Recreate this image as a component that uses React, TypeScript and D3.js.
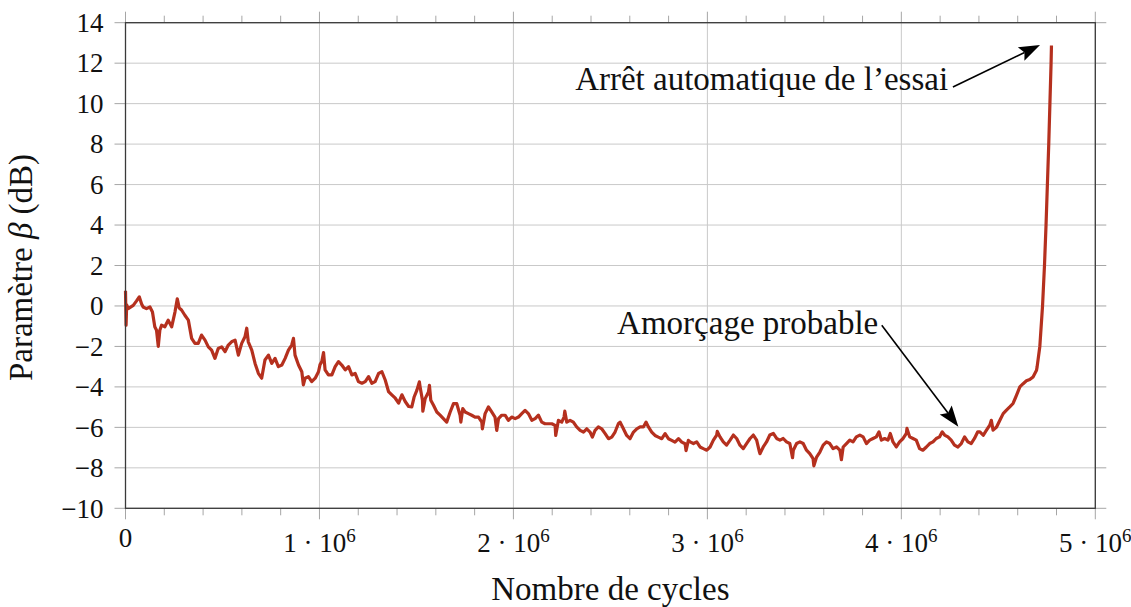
import React from "react";
import * as d3 from "d3";

// Number of cycles, in millions
const cyclesM = [
  0.000, 0.003, 0.006, 0.014, 0.040, 0.057, 0.071, 0.083, 0.091, 0.108, 0.126, 0.139, 0.151, 0.160, 0.169, 0.177, 0.186, 0.203, 0.220, 0.238,
  0.255, 0.267, 0.277, 0.289, 0.306, 0.324, 0.341, 0.358, 0.375, 0.392, 0.410, 0.427, 0.444, 0.461, 0.478, 0.496, 0.513, 0.530, 0.547, 0.565,
  0.582, 0.599, 0.616, 0.625, 0.633, 0.651, 0.668, 0.685, 0.702, 0.719, 0.737, 0.754, 0.771, 0.788, 0.806, 0.823, 0.840, 0.857, 0.866, 0.874,
  0.892, 0.909, 0.917, 0.926, 0.943, 0.960, 0.978, 0.995, 1.003, 1.012, 1.021, 1.029, 1.046, 1.064, 1.081, 1.098, 1.115, 1.133, 1.150, 1.167,
  1.184, 1.201, 1.219, 1.236, 1.253, 1.270, 1.287, 1.305, 1.322, 1.339, 1.356, 1.373, 1.391, 1.408, 1.425, 1.442, 1.460,
  1.476, 1.488, 1.502, 1.515, 1.519, 1.531, 1.533, 1.545, 1.562, 1.567, 1.574, 1.588, 1.605, 1.622, 1.639, 1.656, 1.674, 1.691, 1.708, 1.725,
  1.729, 1.739, 1.751, 1.768, 1.785, 1.802, 1.820, 1.837, 1.840, 1.854, 1.871, 1.888, 1.905, 1.914, 1.923, 1.940, 1.957, 1.974, 1.991, 2.009,
  2.026, 2.043, 2.060, 2.077, 2.095, 2.112, 2.129, 2.146, 2.163, 2.180, 2.198, 2.215, 2.218, 2.232, 2.249, 2.261, 2.265, 2.275, 2.292, 2.309,
  2.326, 2.344, 2.361, 2.378, 2.395, 2.407, 2.421, 2.438, 2.455, 2.473, 2.490, 2.507, 2.524, 2.541, 2.550, 2.567, 2.584, 2.601, 2.619, 2.636,
  2.653, 2.670, 2.684, 2.696, 2.713, 2.730, 2.747, 2.765, 2.782, 2.799, 2.816, 2.833, 2.851, 2.868, 2.885, 2.890, 2.902,
  2.911, 2.928, 2.945, 2.962, 2.979, 2.997, 3.014, 3.031, 3.048, 3.051, 3.065, 3.082, 3.099, 3.117, 3.134, 3.151, 3.168, 3.185, 3.202, 3.220,
  3.237, 3.254, 3.268, 3.271, 3.288, 3.305, 3.322, 3.340, 3.357, 3.374, 3.391, 3.408, 3.425, 3.439, 3.443, 3.460, 3.477, 3.494, 3.511, 3.528,
  3.545, 3.549, 3.563, 3.580, 3.597, 3.614, 3.631, 3.648, 3.666, 3.683, 3.691, 3.700, 3.717, 3.734, 3.751, 3.768, 3.786, 3.803, 3.820, 3.837,
  3.854, 3.871, 3.885, 3.897, 3.914, 3.931, 3.943, 3.957, 3.974, 3.991, 4.009, 4.026, 4.029, 4.043, 4.060, 4.077, 4.094, 4.111, 4.129, 4.146,
  4.163, 4.180, 4.197, 4.211, 4.223, 4.240, 4.257, 4.274, 4.292, 4.309, 4.326, 4.343, 4.360, 4.377, 4.394,
  4.405, 4.422, 4.439, 4.456, 4.464, 4.473, 4.491, 4.508, 4.525, 4.542, 4.559, 4.576, 4.594, 4.611, 4.628, 4.645, 4.662, 4.679, 4.697, 4.700,
  4.714, 4.728, 4.738, 4.746, 4.753, 4.760, 4.766, 4.772, 4.774,
];

// Parameter beta (dB)
const betaDb = [
  0.75, -0.95, 0.05, -0.13, 0.03, 0.25, 0.45, 0.10, -0.05, -0.13, -0.05, -0.30, -1.03, -1.20, -2.00, -1.20, -0.95, -1.03, -0.70, -1.03,
  -0.30, 0.35, -0.10, -0.20, -0.46, -0.70, -1.60, -1.85, -1.85, -1.44, -1.69, -2.02, -2.18, -2.59, -2.10, -2.02, -2.26, -1.93, -1.77, -1.69,
  -2.43, -1.85, -1.52, -1.10, -1.77, -2.18, -2.84, -3.33, -3.57, -2.67, -2.43, -2.84, -2.59, -3.00, -2.92, -2.59, -2.18, -1.93, -1.60, -2.43,
  -2.92, -3.25, -3.90, -3.57, -3.49, -3.74, -3.57, -3.25, -2.90, -2.75, -2.30, -3.16, -3.41, -3.41, -3.00, -2.75, -2.92, -3.16, -3.00, -3.41,
  -3.33, -3.74, -3.82, -3.74, -3.49, -3.82, -3.74, -3.33, -3.25, -3.66, -4.23, -4.39, -4.56, -4.80, -4.39, -4.72, -4.97,
  -4.99, -4.50, -4.17, -3.75, -4.00, -4.66, -5.20, -4.58, -4.25, -3.92, -4.66, -4.91, -5.24, -5.40, -5.57, -5.74, -5.24, -4.83, -4.83, -5.40,
  -5.74, -5.07, -5.24, -5.32, -5.40, -5.49, -5.49, -5.74, -6.07, -5.32, -4.99, -5.24, -5.49, -6.15, -5.57, -5.40, -5.40, -5.65, -5.49, -5.57,
  -5.49, -5.32, -5.16, -5.32, -5.65, -5.57, -5.40, -5.74, -5.82, -5.82, -5.82, -5.90, -6.40, -5.65, -5.74, -5.49, -5.20, -5.74, -5.65, -5.74,
  -5.98, -6.15, -6.23, -6.07, -6.23, -6.48, -6.15, -5.98, -6.07, -6.31, -6.56, -6.48, -6.23, -5.82, -5.74, -6.07, -6.40, -6.56, -6.23, -6.07,
  -5.98, -5.98, -5.74, -5.98, -6.23, -6.40, -6.48, -6.56, -6.31, -6.56, -6.64, -6.73, -6.56, -6.73, -6.81, -7.15, -6.64,
  -6.72, -6.80, -6.72, -6.97, -7.05, -7.13, -6.97, -6.63, -6.38, -6.20, -6.47, -6.72, -6.88, -6.63, -6.38, -6.55, -6.88, -7.05, -6.80, -6.55,
  -6.38, -6.63, -7.20, -7.30, -6.97, -6.72, -6.38, -6.30, -6.55, -6.63, -6.55, -6.72, -6.80, -7.50, -7.13, -6.80, -6.72, -6.80, -7.13, -7.30,
  -7.55, -7.90, -7.47, -7.22, -6.88, -6.72, -6.80, -7.05, -6.97, -7.13, -7.60, -6.97, -6.80, -6.63, -6.72, -6.47, -6.38, -6.47, -6.80, -6.63,
  -6.55, -6.47, -6.22, -6.63, -6.55, -6.63, -6.30, -6.72, -6.97, -6.72, -6.55, -6.30, -6.05, -6.47, -6.55, -6.63, -7.05, -7.13, -6.97, -6.80,
  -6.72, -6.55, -6.47, -6.22, -6.38, -6.47, -6.63, -6.88, -6.97, -6.80, -6.47, -6.72, -6.80, -6.55, -6.22,
  -6.22, -6.39, -6.14, -5.89, -5.65, -6.14, -5.98, -5.65, -5.32, -5.15, -4.99, -4.82, -4.41, -4.00, -3.84, -3.70, -3.64, -3.51, -3.18, -3.01,
  -2.00, 0.00, 2.00, 4.00, 6.00, 8.00, 10.00, 12.00, 12.87,
];

const yTicks = [-10, -8, -6, -4, -2, 0, 2, 4, 6, 8, 10, 12, 14];
const xTicksM = [0, 1, 2, 3, 4, 5];
const xMinorTicksM = d3.range(0, 5.0001, 0.2);

const xTitle = "Nombre de cycles";
const yTitleParts = ["Paramètre ", "β", " (dB)"];

// Annotations: [text end x (Mcycles), text baseline y (dB)], arrow start, arrow tip
const noteLabels = ["Arrêt automatique de l’essai", "Amorçage probable"];
const noteTextPos = [[4.241, 10.67], [3.881, -1.40]];
const noteArrowFrom = [[4.266, 10.82], [3.899, -0.95]];
const noteArrowTo = [[4.715, 12.90], [4.294, -5.97]];

const W = 1131;
const H = 607;
const FONT = "'Liberation Serif', 'Times New Roman', serif";
const LINE_COLOR = "#b5301e";
const GRID = "#c9c9c9";
const TICK = "#a6a6a6";

export default function App() {
  const x = d3.scaleLinear().domain([0, 5e6]).range([125.5, 1095.3]);
  const y = d3.scaleLinear().domain([-10, 14]).range([508.3, 22.7]);
  const pts: [number, number][] = cyclesM.map((c, i) => [c * 1e6, betaDb[i]]);
  const line = d3
    .line<[number, number]>()
    .x((d) => x(d[0]))
    .y((d) => y(d[1]));

  const [x0, x1] = x.range();
  const [yb, yt] = y.range();

  const fmtY = (v: number) => (v < 0 ? "\u2212" + Math.abs(v) : String(v));

  const arrowHead = (fx: number, fy: number, tx: number, ty: number) => {
    const ang = Math.atan2(ty - fy, tx - fx);
    const len = 21;
    const half = 7.5;
    const bx = tx - len * Math.cos(ang);
    const by = ty - len * Math.sin(ang);
    const nx = -Math.sin(ang);
    const ny = Math.cos(ang);
    const ix = tx - (len * 0.82) * Math.cos(ang);
    const iy = ty - (len * 0.82) * Math.sin(ang);
    return {
      path: `M${tx},${ty} L${bx + nx * half},${by + ny * half} L${ix},${iy} L${bx - nx * half},${by - ny * half} Z`,
      ix,
      iy,
    };
  };

  return (
    <svg
      width={W}
      height={H}
      viewBox={`0 0 ${W} ${H}`}
      style={{ position: "absolute", left: 0, top: 0, background: "#fff" }}
      fontFamily={FONT}
    >
      <rect x={0} y={0} width={W} height={H} fill="#fff" />
      {/* horizontal grid + y ticks (left & right, outside) */}
      {yTicks.map((t) => (
        <g key={"gy" + t}>
          <line x1={x0} x2={x1} y1={y(t)} y2={y(t)} stroke={GRID} strokeWidth={1} />
          <line x1={x0 - 11} x2={x0} y1={y(t)} y2={y(t)} stroke={TICK} strokeWidth={1} />
          <line x1={x1} x2={x1 + 11} y1={y(t)} y2={y(t)} stroke={TICK} strokeWidth={1} />
          <text
            x={103.5}
            y={y(t) + 9.2}
            textAnchor="end"
            fontSize={27}
            fill="#111"
          >
            {fmtY(t)}
          </text>
        </g>
      ))}
      {/* vertical grid + major x ticks */}
      {xTicksM.map((t) => (
        <g key={"gx" + t}>
          <line x1={x(t * 1e6)} x2={x(t * 1e6)} y1={yt} y2={yb} stroke={GRID} strokeWidth={1} />
          <line x1={x(t * 1e6)} x2={x(t * 1e6)} y1={yb} y2={yb + 11} stroke={TICK} strokeWidth={1} />
          <line x1={x(t * 1e6)} x2={x(t * 1e6)} y1={yt - 11} y2={yt} stroke={TICK} strokeWidth={1} />
          {t === 0 ? (
            <text x={x(0)} y={546.5} textAnchor="middle" fontSize={27} fill="#111">
              0
            </text>
          ) : (
            <text x={x(t * 1e6)} y={551.5} textAnchor="middle" fontSize={27} fill="#111">
              <tspan>{`${t} · 10`}</tspan>
              <tspan dy={-10} fontSize={19}>
                6
              </tspan>
            </text>
          )}
        </g>
      ))}
      {/* minor x ticks */}
      {xMinorTicksM
        .filter((t) => Math.abs(t - Math.round(t)) > 1e-6)
        .map((t) => (
          <g key={"mx" + t}>
            <line x1={x(t * 1e6)} x2={x(t * 1e6)} y1={yb} y2={yb + 7} stroke={TICK} strokeWidth={1} />
            <line x1={x(t * 1e6)} x2={x(t * 1e6)} y1={yt - 7} y2={yt} stroke={TICK} strokeWidth={1} />
          </g>
        ))}

      {/* data */}
      <path
        d={line(pts) || ""}
        fill="none"
        stroke={LINE_COLOR}
        strokeWidth={3.2}
        strokeLinejoin="round"
        strokeLinecap="butt"
      />

      {/* frame */}
      <rect
        x={x0}
        y={yt}
        width={x1 - x0}
        height={yb - yt}
        fill="none"
        stroke="#3a3a3a"
        strokeWidth={1.3}
      />

      {/* annotations */}
      {noteLabels.map((lab, i) => {
        const fx = x(noteArrowFrom[i][0] * 1e6);
        const fy = y(noteArrowFrom[i][1]);
        const tx = x(noteArrowTo[i][0] * 1e6);
        const ty = y(noteArrowTo[i][1]);
        const head = arrowHead(fx, fy, tx, ty);
        return (
          <g key={"n" + i}>
            <text
              x={x(noteTextPos[i][0] * 1e6)}
              y={y(noteTextPos[i][1])}
              textAnchor="end"
              fontSize={33}
              fill="#111"
            >
              {lab}
            </text>
            <line x1={fx} y1={fy} x2={head.ix} y2={head.iy} stroke="#000" strokeWidth={1.6} />
            <path d={head.path} fill="#000" />
          </g>
        );
      })}

      {/* axis titles */}
      <text x={610.4} y={600} textAnchor="middle" fontSize={33} fill="#111">
        {xTitle}
      </text>
      <text
        transform={`translate(32, ${(yt + yb) / 2 + 2}) rotate(-90)`}
        textAnchor="middle"
        fontSize={33}
        fill="#111"
      >
        <tspan>{yTitleParts[0]}</tspan>
        <tspan fontStyle="italic">{yTitleParts[1]}</tspan>
        <tspan>{yTitleParts[2]}</tspan>
      </text>
    </svg>
  );
}
